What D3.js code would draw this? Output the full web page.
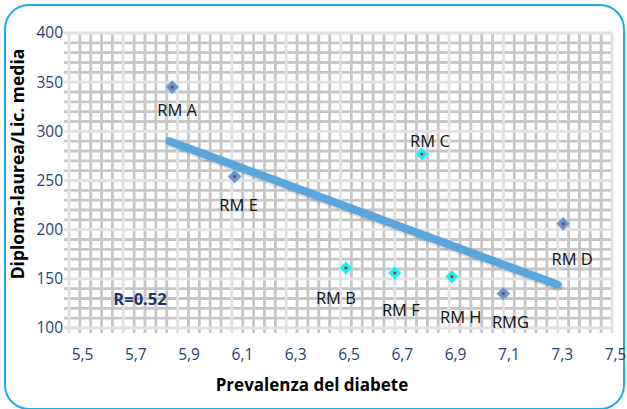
<!DOCTYPE html>
<html>
<head>
<meta charset="utf-8">
<script src="https://cdn.jsdelivr.net/npm/d3@7"></script>
<style>
  html, body { margin: 0; padding: 0; background: #ffffff; }
  svg { display: block; }
</style>
</head>
<body>
<svg id="chart" width="627" height="409"></svg>
<script>
// Regional data: diabetes prevalence vs. diploma-degree/middle-school ratio
const regions     = ["RM A", "RM E", "RM B", "RM F", "RM C", "RM H", "RMG", "RM D"];
const prevalence  = [5.88, 6.11, 6.52, 6.70, 6.80, 6.91, 7.10, 7.32];
const education   = [345, 254, 161, 156, 277, 152, 135, 206];
const highlighted = [false, false, true, true, true, true, false, false];

// Linear trend line end points
const trendX = [5.87, 7.30];
const trendY = [290, 144];

const correlationLabel = "R=0.52";
const xTicks = [5.5, 5.7, 5.9, 6.1, 6.3, 6.5, 6.7, 6.9, 7.1, 7.3, 7.5];
const yTicks = [100, 150, 200, 250, 300, 350, 400];
const xTitle = "Prevalenza del diabete";
const yTitle = "Diploma-laurea/Lic. media";

// Label placement relative to each marker (dx, dy of the text centre)
const labelOffset = {
  "RM A": [5, 23], "RM E": [4, 28], "RM B": [-10, 30], "RM F": [6, 37],
  "RM C": [8, -13], "RM H": [9, 40], "RMG": [7, 28], "RM D": [9, 35]
};

const svg = d3.select("#chart");
const plot = { left: 69, right: 612, top: 33, bottom: 328 };

const x = d3.scaleLinear().domain([5.5, 7.5]).range([plot.left, plot.right]);
const y = d3.scaleLinear().domain([100, 400]).range([plot.bottom, plot.top]);

const font = "'Open Sans', sans-serif";

// Rounded frame
svg.append("rect")
  .attr("x", 5).attr("y", 5).attr("width", 619).attr("height", 404)
  .attr("rx", 24).attr("ry", 24)
  .attr("fill", "#ffffff").attr("stroke", "#1aaeea").attr("stroke-width", 2);

const defs = svg.append("defs");
const shadow = defs.append("filter").attr("id", "lineShadow")
  .attr("x", "-10%").attr("y", "-50%").attr("width", "120%").attr("height", "200%");
shadow.append("feDropShadow").attr("dx", 1).attr("dy", 1.5).attr("stdDeviation", 1.2)
  .attr("flood-color", "#000").attr("flood-opacity", 0.25);

// Grid: minor lines (darker) and major lines (lighter)
const minorX = d3.range(0, 51).map(i => 5.5 + i * 0.04).filter((v, i) => i % 5 !== 0);
const majorX = d3.range(0, 11).map(i => 5.5 + i * 0.2);
const minorY = d3.range(0, 31).map(i => 100 + i * 10).filter((v, i) => i % 5 !== 0);
const majorY = d3.range(0, 7).map(i => 100 + i * 50);
const ext = 5;

const grid = svg.append("g");
grid.selectAll("line.mx").data(minorX).join("line")
  .attr("x1", d => x(d)).attr("x2", d => x(d))
  .attr("y1", plot.top).attr("y2", plot.bottom + ext)
  .attr("stroke", "#c6c6c6").attr("stroke-width", 2.8);
grid.selectAll("line.my").data(minorY).join("line")
  .attr("y1", d => y(d)).attr("y2", d => y(d))
  .attr("x1", plot.left - ext).attr("x2", plot.right)
  .attr("stroke", "#c6c6c6").attr("stroke-width", 2.8);
grid.selectAll("line.Mx").data(majorX).join("line")
  .attr("x1", d => x(d)).attr("x2", d => x(d))
  .attr("y1", plot.top).attr("y2", plot.bottom + ext)
  .attr("stroke", "#e2e2e2").attr("stroke-width", 2.8);
grid.selectAll("line.My").data(majorY).join("line")
  .attr("y1", d => y(d)).attr("y2", d => y(d))
  .attr("x1", plot.left - ext).attr("x2", plot.right)
  .attr("stroke", "#e2e2e2").attr("stroke-width", 2.8);

// Axes
const tickColor = "#243f74";
const fmt = d => d.toFixed(1).replace(".", ",");
const xAxis = svg.append("g").attr("transform", `translate(0,${plot.bottom})`)
  .call(d3.axisBottom(x).tickValues(xTicks).tickSize(0).tickPadding(21).tickFormat(fmt));
xAxis.select(".domain").remove();
xAxis.selectAll("text")
  .attr("dx", d => 13 - (d - 5.5) * 5)
  .attr("fill", tickColor).attr("font-family", font).attr("font-size", 15.5);

const yAxis = svg.append("g").attr("transform", `translate(${plot.left},0)`)
  .call(d3.axisLeft(y).tickValues(yTicks).tickSize(0).tickPadding(6));
yAxis.select(".domain").remove();
yAxis.selectAll("text")
  .attr("fill", tickColor).attr("font-family", font).attr("font-size", 15.5);

// Axis titles
svg.append("text").text(xTitle)
  .attr("x", 312).attr("y", 391).attr("text-anchor", "middle")
  .attr("font-family", font).attr("font-weight", "bold")
  .attr("font-size", 17).attr("fill", "#000");
svg.append("text").text(yTitle)
  .attr("transform", "translate(24,164) rotate(-90)").attr("text-anchor", "middle")
  .attr("font-family", font).attr("font-weight", "bold")
  .attr("font-size", 17.5).attr("fill", "#000");

// Trend line
svg.append("line")
  .attr("x1", x(trendX[0])).attr("y1", y(trendY[0]))
  .attr("x2", x(trendX[1])).attr("y2", y(trendY[1]))
  .attr("stroke", "#58a6db").attr("stroke-width", 8).attr("stroke-linecap", "round")
  .attr("filter", "url(#lineShadow)");

// Markers
const pts = regions.map((r, i) => ({ name: r, px: prevalence[i], py: education[i], hi: highlighted[i] }));
const diamond = d3.symbol().type(d3.symbolDiamond2).size(110);
const mk = svg.append("g");
mk.selectAll("path").data(pts).join("path")
  .attr("d", diamond)
  .attr("transform", d => `translate(${x(d.px)},${y(d.py)})`)
  .attr("fill", d => d.hi ? "#14f0f4" : "#5f97d2")
  .attr("stroke", d => d.hi ? "#7ff8fa" : "#8fb6e0").attr("stroke-width", 0.8);
mk.selectAll("circle").data(pts).join("circle")
  .attr("cx", d => x(d.px)).attr("cy", d => y(d.py)).attr("r", 1.5)
  .attr("fill", "#e8141c");

// Point labels
svg.append("g").selectAll("text").data(pts).join("text")
  .text(d => d.name)
  .attr("x", d => x(d.px) + labelOffset[d.name][0])
  .attr("y", d => y(d.py) + labelOffset[d.name][1])
  .attr("dy", "0.36em").attr("text-anchor", "middle")
  .attr("font-family", font).attr("font-size", 16.5)
  .attr("fill", "#111");

// Correlation coefficient
svg.append("text").text(correlationLabel)
  .attr("x", 140).attr("y", 299).attr("dy", "0.36em").attr("text-anchor", "middle")
  .attr("font-family", font).attr("font-weight", "bold")
  .attr("font-size", 16.5).attr("fill", "#1c3468");
</script>
</body>
</html>
